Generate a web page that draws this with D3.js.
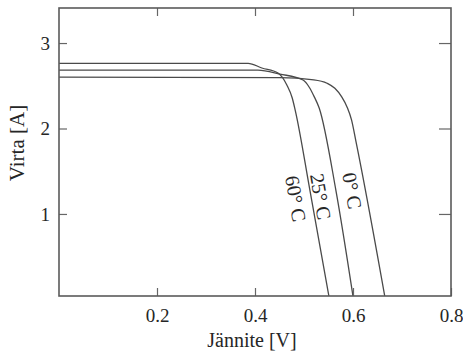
<!DOCTYPE html>
<html>
<head>
<meta charset="utf-8">
<script src="https://cdn.jsdelivr.net/npm/d3@7"></script>
<style>
  html, body { margin: 0; padding: 0; background: #fff; }
  svg { display: block; }
  svg text { font-family: "Liberation Serif", "Times New Roman", Times, "DejaVu Serif", serif; fill: #262626; }
</style>
</head>
<body>
<svg id="chart" width="463" height="354"></svg>
<script>
// Solar cell I-V characteristics at three temperatures
const temperatures = ["60° C", "25° C", "0° C"];

// voltage [V] and current [A] samples for each curve
const voltage60 = [0, 0.386, 0.414, 0.447, 0.465, 0.476, 0.482, 0.512, 0.552];
const current60 = [2.763, 2.763, 2.708, 2.649, 2.509, 2.357, 2.216, 1.28, 0];

const voltage25 = [0, 0.406, 0.451, 0.498, 0.511, 0.521, 0.531, 0.565, 0.601];
const current25 = [2.684, 2.684, 2.637, 2.567, 2.48, 2.37, 2.24, 1.28, 0];

const voltage0 = [0, 0.45, 0.52, 0.547, 0.563, 0.577, 0.588, 0.597, 0.606, 0.666];
const current0 = [2.602, 2.595, 2.57, 2.53, 2.47, 2.37, 2.25, 2.1, 1.85, 0];

const xTicks = [0.2, 0.4, 0.6, 0.8];
const yTicks = [1, 2, 3];

const xDomain = [0, 0.8];
const yDomain = [0.04, 3.41];

const svg = d3.select("#chart");
const x = d3.scaleLinear().domain(xDomain).range([59, 451]);
const y = d3.scaleLinear().domain(yDomain).range([296, 8]);

const series = [
  { name: temperatures[0], v: voltage60, i: current60 },
  { name: temperatures[1], v: voltage25, i: current25 },
  { name: temperatures[2], v: voltage0, i: current0 }
];

svg.append("defs").append("clipPath").attr("id", "plotClip")
  .append("rect")
  .attr("x", x(0)).attr("y", y(yDomain[1]))
  .attr("width", x(0.8) - x(0)).attr("height", y(yDomain[0]) - y(yDomain[1]));

const line = d3.line()
  .x(d => x(d[0]))
  .y(d => y(d[1]))
  .curve(d3.curveMonotoneX);

const plot = svg.append("g").attr("clip-path", "url(#plotClip)");
plot.selectAll("path.curve")
  .data(series)
  .join("path")
  .attr("class", "curve")
  .attr("d", s => line(s.v.map((v, k) => [v, s.i[k]])))
  .attr("fill", "none")
  .attr("stroke", "#4a4a4a")
  .attr("stroke-width", 1.3);

// Axes with inward ticks on all four sides
const tickLen = 8;
const axisBottomG = svg.append("g").attr("transform", `translate(0,${y(yDomain[0])})`)
  .call(d3.axisBottom(x).tickValues(xTicks).tickSizeInner(-tickLen).tickSizeOuter(0)
    .tickPadding(13).tickFormat(d3.format(".1f")));
const axisTopG = svg.append("g").attr("transform", `translate(0,${y(yDomain[1])})`)
  .call(d3.axisTop(x).tickValues(xTicks.slice(0, 3)).tickSizeInner(-tickLen).tickSizeOuter(0)
    .tickFormat(""));
const axisLeftG = svg.append("g").attr("transform", `translate(${x(0)},0)`)
  .call(d3.axisLeft(y).tickValues(yTicks).tickSizeInner(-tickLen).tickSizeOuter(0)
    .tickPadding(9).tickFormat(d3.format("d")));
const axisRightG = svg.append("g").attr("transform", `translate(${x(0.8)},0)`)
  .call(d3.axisRight(y).tickValues(yTicks).tickSizeInner(-tickLen - 4).tickSizeOuter(0)
    .tickFormat(""));

[axisBottomG, axisTopG, axisLeftG, axisRightG].forEach(g => {
  g.attr("font-family", null);
  g.select(".domain").remove();
  g.selectAll(".tick line").attr("stroke", "#666").attr("stroke-width", 1.2);
  g.selectAll(".tick text").attr("font-size", 19);
});

// Plot frame
svg.append("rect")
  .attr("x", x(0)).attr("y", y(yDomain[1]))
  .attr("width", x(0.8) - x(0)).attr("height", y(yDomain[0]) - y(yDomain[1]))
  .attr("fill", "none").attr("stroke", "#5a5a5a").attr("stroke-width", 1.6);

// Axis titles
svg.append("text")
  .attr("x", 252).attr("y", 347)
  .attr("text-anchor", "middle").attr("font-size", 20)
  .text("Jännite [V]");

svg.append("text")
  .attr("transform", "translate(24,143) rotate(-90)")
  .attr("text-anchor", "middle").attr("font-size", 21)
  .text("Virta [A]");

// Curve labels, rotated along the steep part of each curve
const labelPos = [
  { v: 0.461, i: 1.432 },
  { v: 0.512, i: 1.456 },
  { v: 0.578, i: 1.467 }
];
svg.selectAll("text.temp")
  .data(series)
  .join("text")
  .attr("class", "temp")
  .attr("transform", (s, k) => `translate(${x(labelPos[k].v)},${y(labelPos[k].i)}) rotate(80)`)
  .attr("text-anchor", "start")
  .attr("font-size", 20)
  .text(s => s.name);
</script>
</body>
</html>
